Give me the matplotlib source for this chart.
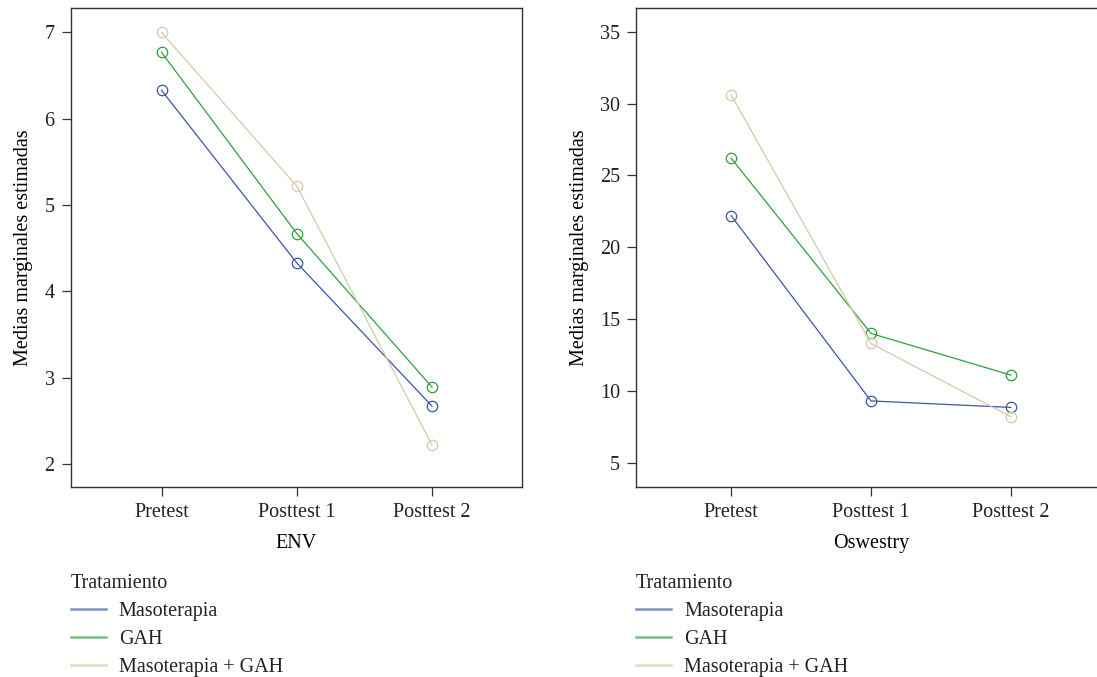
import matplotlib.pyplot as plt
from matplotlib.lines import Line2D

plt.rcParams['font.family'] = ['Liberation Serif', 'DejaVu Serif']

fases = ["Pretest", "Posttest 1", "Posttest 2"]
grupos = ["Masoterapia", "GAH", "Masoterapia + GAH"]
colores = ["#3a55a6", "#2f9e3f", "#d3cba8"]

# ENV
env_maso = [6.33, 4.33, 2.67]
env_gah = [6.77, 4.67, 2.89]
env_mg = [7.00, 5.22, 2.22]

# Oswestry
osw_maso = [22.2, 9.3, 8.85]
osw_gah = [26.2, 14.0, 11.1]
osw_mg = [30.6, 13.3, 8.2]

W, H = 1097, 677
fig = plt.figure(figsize=(W / 100, H / 100), dpi=100)

ax1 = fig.add_axes([70.6 / W, 1 - 487 / H, 451.4 / W, 478.7 / H])
ax2 = fig.add_axes([636 / W, 1 - 487 / H, 470 / W, 478.7 / H])

fs = 14.5
x = range(len(fases))


def panel(ax, series, xlabel, ylim, yticks, xlim):
    for vals, c in zip(series, colores):
        ax.plot(x, vals, color=c, lw=0.9, marker='o', ms=7.5,
                mfc='none', mec=c, mew=0.9)
    ax.set_xlim(*xlim)
    ax.set_ylim(*ylim)
    ax.set_xticks(list(x))
    ax.set_xticklabels(fases, fontsize=fs)
    ax.set_yticks(yticks)
    ax.set_yticklabels([str(t) for t in yticks], fontsize=fs)
    ax.set_xlabel(xlabel, fontsize=fs, labelpad=9)
    ax.set_ylabel("Medias marginales estimadas", fontsize=fs, labelpad=8)
    ax.tick_params(direction='out', length=6.5, width=0.9, color='#333333',
                   labelcolor='#222222', pad=5)
    for s in ax.spines.values():
        s.set_color('#333333')
        s.set_linewidth(1.0)

    handles = [Line2D([0], [0], color=c, lw=1.8, alpha=0.65) for c in colores]
    pos = ax.get_position()
    leg = ax.legend(handles, grupos, title="Tratamiento", loc='upper left',
                    bbox_to_anchor=(pos.x0, 1 - 574 / H),
                    bbox_transform=fig.transFigure, frameon=False,
                    fontsize=fs, title_fontsize=fs, alignment='left',
                    handlelength=1.75, handletextpad=0.65, labelspacing=0.45,
                    borderpad=0, borderaxespad=0)
    for t in leg.get_texts():
        t.set_color('#222222')
    leg.get_title().set_color('#222222')


panel(ax1, [env_maso, env_gah, env_mg], "ENV", (1.733, 7.28),
      [2, 3, 4, 5, 6, 7], (-0.672, 2.665))
panel(ax2, [osw_maso, osw_gah, osw_mg], "Oswestry", (3.31, 36.63),
      [5, 10, 15, 20, 25, 30, 35], (-0.68, 2.68))

fig.savefig("out.png", dpi=100)
